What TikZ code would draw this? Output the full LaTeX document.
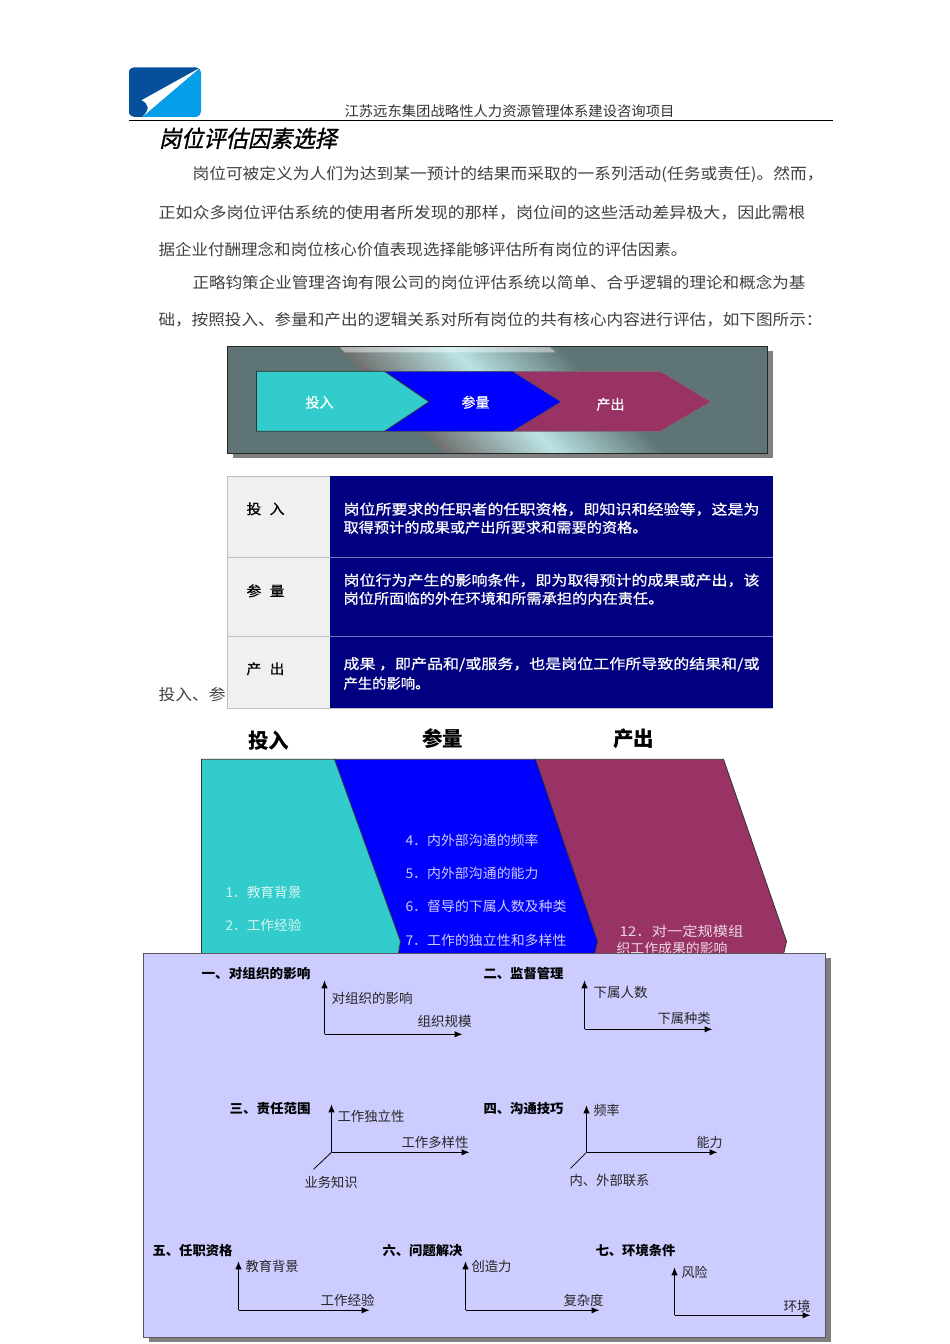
\documentclass[tikz,border=0pt]{standalone}
\usepackage{graphicx}
\usepackage{fontspec}
\setmainfont{Noto Sans CJK SC}
\newfontfamily\ttlfont[FakeSlant=0.22,FakeBold=1.2]{Noto Sans CJK SC}
\newfontfamily\medfont[FakeBold=0.7]{Noto Sans CJK SC}
\usetikzlibrary{arrows.meta}
\definecolor{tealbox}{HTML}{5F7575}
\definecolor{cyanf}{HTML}{33CCCC}
\definecolor{bluef}{HTML}{0000FF}
\definecolor{plumf}{HTML}{993366}
\definecolor{navyf}{HTML}{000080}
\definecolor{greyc}{HTML}{F0F0F0}
\definecolor{lav}{HTML}{CCCCFF}
\definecolor{bandl}{HTML}{BCE4E4}
\definecolor{bandd}{HTML}{707070}
\newcommand{\fitw}[3][14]{\resizebox{#2pt}{\height}{\fontsize{#1}{#1}\selectfont #3}}
\tikzset{
  txt/.style={anchor=west,inner sep=0pt,outer sep=0pt},
  body/.style={txt,text=black!75},
  lab/.style={txt,text=black!85},
  head/.style={txt,text=black,font=\bfseries},
  whitet/.style={txt,text=white,font=\medfont},
  axis/.style={draw=black,line width=1pt,-{Latex[length=8pt,width=6.5pt]}},
  leg/.style={draw=black,line width=0.8pt},
  shadowf/.style={fill=black!50,draw=none},
}
\begin{document}
\begin{tikzpicture}[x=1pt,y=-1pt]
\useasboundingbox (0.5,-0.3) rectangle (950.5,1343.7);
\fill[white] (0.5,-0.3) rectangle (950.5,1343.7);
% logo
\begin{scope}
\clip[rounded corners=6pt] (129,67) rectangle (201.5,116.5);
\fill[fill={rgb,255:red,6;green,80;blue,155}] (129,67) rectangle (201.5,116.5);
\fill[fill={rgb,255:red,5;green,158;blue,232}] (201.5,67) -- (201.5,116.5) -- (143,116.5) -- cycle;
\fill[white] (200.5,67.5) -- (142,100) .. controls (149,103) and (151,109) .. (143,116.5) -- cycle;
\end{scope}
\node[txt,text=black!80] (hdr) at (345,111) {\fitw[14]{330}{江苏远东集团战略性人力资源管理体系建设咨询项目}};
\coordinate (rulea) at (129,120); \coordinate (ruleb) at (833,120);
\draw[line width=1.1pt] (rulea) -- (ruleb);
\node[txt] (ttl) at (159.5,138) {\fitw[23]{178}{\ttlfont 岗位评估因素选择}};
% body
\node[body] (b1) at (193,174.4) {\fitw[15.5]{631}{岗位可被定义为人们为达到某一预计的结果而采取的一系列活动(任务或责任)。然而，}};
\node[body] (b2) at (159,212.4) {\fitw[15.5]{647}{正如众多岗位评估系统的使用者所发现的那样，岗位间的这些活动差异极大，因此需根}};
\node[body] (b3) at (159,249.4) {\fitw[15.5]{529}{据企业付酬理念和岗位核心价值表现选择能够评估所有岗位的评估因素。}};
\node[body] (b4) at (193,282.4) {\fitw[15.5]{613}{正略钧策企业管理咨询有限公司的岗位评估系统以简单、合乎逻辑的理论和概念为基}};
\node[body] (b5) at (159,319.4) {\fitw[15.5]{664}{础，按照投入、参量和产出的逻辑关系对所有岗位的共有核心内容进行评估，如下图所示：}};
\node[body] (b6) at (159,694.4) {\fitw[15.5]{67}{投入、参}};
% banner
\fill[shadowf] (233,351) rectangle (773,458);
\fill[tealbox] (228,346) rectangle (768,453);
\begin{scope}
\clip (228,346) rectangle (768,453);
\foreach \i in {0,...,59}{
  \pgfmathsetmacro{\t}{\i/59}
  \pgfmathsetmacro{\xa}{338+220*\t}
  \pgfmathsetmacro{\xb}{\xa+5}
  \pgfmathsetmacro{\xc}{\xa+107}
  \pgfmathsetmacro{\xd}{\xb+107}
  \pgfmathsetmacro{\pa}{\t<0.5 ? 200*\t : 0}
  \pgfmathsetmacro{\pb}{\t<0.5 ? 0 : 200*(\t-0.5)}
  \ifdim\t pt<0.5pt
    \colorlet{strip}{bandl!\pa!bandd}
  \else
    \colorlet{strip}{tealbox!\pb!bandl}
  \fi
  \fill[strip] (\xa,346) -- (\xb,346) -- (\xd,453) -- (\xc,453) -- cycle;
}
\fill[white,opacity=0.45] (340,346.5) -- (550,346.5) -- (556,352) -- (345,352) -- cycle;
\end{scope}
\draw[draw=black!85,line width=0.8pt] (228,346) rectangle (768,453);
\draw[draw=black!55,line width=0.6pt,fill=plumf] (513,371) -- (661,371) -- (711.5,401.5) -- (661,431) -- (513,431) -- cycle;
\draw[draw=black!70,line width=0.6pt,fill=bluef] (385,371) -- (513,371) -- (561.5,401.5) -- (513,431) -- (385,431) -- cycle;
\draw[draw=black!80,line width=0.8pt,fill=cyanf] (257,371) -- (385,371) -- (429.5,401.5) -- (385,431) -- (257,431) -- cycle;
\node[text=white,inner sep=0pt,font=\medfont\fontsize{14}{14}\selectfont] (ba) at (320,402) {投入};
\node[text=white,inner sep=0pt,font=\medfont\fontsize{14}{14}\selectfont] (bb) at (476,402) {参量};
\node[text=white,inner sep=0pt,font=\medfont\fontsize{14}{14}\selectfont] (bc) at (611,404) {产出};
% table
\fill[greyc] (228,476) rectangle (330,708);
\fill[navyf] (330,476) rectangle (773,708);
\draw[black!25,line width=0.7pt] (228,476) -- (330,476) (228,476) -- (228,708) -- (773,708);
\draw[black!25,line width=0.7pt] (228,557.5) -- (330,557.5) (228,636.5) -- (330,636.5);
\draw[white!45!navyf,line width=0.7pt] (330,557.5) -- (773,557.5) (330,636.5) -- (773,636.5);
\node[txt,font=\medfont] (t1) at (247,508.5) {\fitw[14]{38}{投\hspace{8pt}入}};
\node[txt,font=\medfont] (t2) at (247,590.5) {\fitw[14]{38}{参\hspace{8pt}量}};
\node[txt,font=\medfont] (t3) at (247,668.5) {\fitw[14]{38}{产\hspace{8pt}出}};
\node[whitet] (r1) at (344,509) {\fitw[14]{416}{岗位所要求的任职者的任职资格，即知识和经验等，这是为}};
\node[whitet] (r2) at (344,527) {\fitw[14]{304}{取得预计的成果或产出所要求和需要的资格。}};
\node[whitet] (r3) at (344,580) {\fitw[14]{416}{岗位行为产生的影响条件，即为取得预计的成果或产出，该}};
\node[whitet] (r4) at (344,598) {\fitw[14]{320}{岗位所面临的外在环境和所需承担的内在责任。}};
\node[whitet] (r5) at (344,664) {\fitw[14]{416}{成果 ，即产品和/或服务，也是岗位工作所导致的结果和/或}};
\node[whitet] (r6) at (344,683) {\fitw[14]{86}{产生的影响。}};
% three columns
\node[inner sep=0pt,font=\bfseries\fontsize{20.5}{20.5}\selectfont] (c1) at (269,740.5) {投入};
\node[inner sep=0pt,font=\bfseries\fontsize{20.5}{20.5}\selectfont] (c2) at (443,738.5) {参量};
\node[inner sep=0pt,font=\bfseries\fontsize{20.5}{20.5}\selectfont] (c3) at (634,738.5) {产出};
\draw[draw=black!80,line width=0.8pt,fill=plumf] (536,759) -- (724,759) -- (787,941) -- (783,958) -- (530,958) -- cycle;
\draw[draw=black!80,line width=0.8pt,fill=bluef] (335,759) -- (536,759) -- (598,941) -- (594,958) -- (398,958) -- cycle;
\draw[draw=black!80,line width=0.8pt,fill=cyanf] (202,759) -- (335,759) -- (401,941) -- (398,958) -- (202,958) -- cycle;
\node[txt,text=white!80!cyanf] (l1) at (226,892) {\fitw[13.5]{76}{1．教育背景}};
\node[txt,text=white!80!cyanf] (l2) at (226,925.5) {\fitw[13.5]{76}{2．工作经验}};
\node[txt,text=white!80!bluef] (l3) at (406,840) {\fitw[13.5]{133}{4．内外部沟通的频率}};
\node[txt,text=white!80!bluef] (l4) at (406,873) {\fitw[13.5]{133}{5．内外部沟通的能力}};
\node[txt,text=white!80!bluef] (l5) at (406,906.5) {\fitw[13.5]{161}{6．督导的下属人数及种类}};
\node[txt,text=white!80!bluef] (l6) at (406,940) {\fitw[13.5]{161}{7．工作的独立性和多样性}};
\node[txt,text=white!80!plumf] (l7) at (620,931) {\fitw[13.5]{124}{12．对一定规模组}};
\node[txt,text=white!80!plumf] (l8) at (617,948) {\fitw[13.5]{111}{织工作成果的影响}};
% lavender panel
\fill[shadowf] (149,958) rectangle (831,1342);
\draw[fill=lav,draw=black!65,line width=0.9pt] (144,953) rectangle (826,1337);
\tikzset{hd/.style={head}}
\node[hd] (h1) at (202,973.5) {\fitw[13]{109}{一、对组织的影响}};
\node[hd] (h2) at (484,973.5) {\fitw[13]{80}{二、监督管理}};
\node[hd] (h3) at (230,1108.5) {\fitw[13]{81}{三、责任范围}};
\node[hd] (h4) at (484,1108.5) {\fitw[13]{80}{四、沟通技巧}};
\node[hd] (h5) at (153,1250.5) {\fitw[13]{80}{五、任职资格}};
\node[hd] (h6) at (383,1250.5) {\fitw[13]{80}{六、问题解决}};
\node[hd] (h7) at (596,1250.5) {\fitw[13]{80}{七、环境条件}};
% chart 1
\coordinate (o1) at (325,1034); \coordinate (y1) at (325,980); \coordinate (x1) at (463,1034);
\draw[axis] (o1) -- (y1); \draw[axis] (o1) -- (x1);
\node[lab] at (332,998) {\fitw[13.4]{81}{对组织的影响}};
\node[lab] at (418,1021) {\fitw[13.4]{54}{组织规模}};
% chart 2
\coordinate (o2) at (585,1029); \coordinate (y2) at (585,980); \coordinate (x2) at (713,1029);
\draw[axis] (o2) -- (y2); \draw[axis] (o2) -- (x2);
\node[lab] at (594,992) {\fitw[13.4]{54}{下属人数}};
\node[lab] at (658,1018) {\fitw[13.4]{53}{下属种类}};
% chart 3
\coordinate (o3) at (332,1152); \coordinate (y3) at (332,1104); \coordinate (x3) at (470,1152); \coordinate (z3) at (314,1169);
\draw[axis] (o3) -- (y3); \draw[axis] (o3) -- (x3); \draw[leg] (o3) -- (z3);
\node[lab] at (338,1116) {\fitw[13.4]{67}{工作独立性}};
\node[lab] at (402,1142) {\fitw[13.4]{67}{工作多样性}};
\node[lab] at (305,1182) {\fitw[13.4]{53}{业务知识}};
% chart 4
\coordinate (o4) at (587,1152); \coordinate (y4) at (587,1105); \coordinate (x4) at (718,1152); \coordinate (z4) at (571,1168);
\draw[axis] (o4) -- (y4); \draw[axis] (o4) -- (x4); \draw[leg] (o4) -- (z4);
\node[lab] at (594,1110) {\fitw[13.4]{26}{频率}};
\node[lab] at (697,1142) {\fitw[13.4]{26}{能力}};
\node[lab] at (570,1180) {\fitw[13.4]{80}{内、外部联系}};
% chart 5
\coordinate (o5) at (239,1310); \coordinate (y5) at (239,1261); \coordinate (x5) at (370,1310);
\draw[axis] (o5) -- (y5); \draw[axis] (o5) -- (x5);
\node[lab] at (246,1266) {\fitw[13.4]{53}{教育背景}};
\node[lab] at (321,1300) {\fitw[13.4]{54}{工作经验}};
% chart 6
\coordinate (o6) at (466,1310); \coordinate (y6) at (466,1261); \coordinate (x6) at (600,1310);
\draw[axis] (o6) -- (y6); \draw[axis] (o6) -- (x6);
\node[lab] at (472,1266) {\fitw[13.4]{40}{创造力}};
\node[lab] at (564,1300) {\fitw[13.4]{40}{复杂度}};
% chart 7
\coordinate (o7) at (675,1315); \coordinate (y7) at (675,1267); \coordinate (x7) at (811,1315);
\draw[axis] (o7) -- (y7); \draw[axis] (o7) -- (x7);
\node[lab] at (682,1272) {\fitw[13.4]{26}{风险}};
\node[lab] at (784,1306) {\fitw[13.4]{27}{环境}};
\end{tikzpicture}
\end{document}
